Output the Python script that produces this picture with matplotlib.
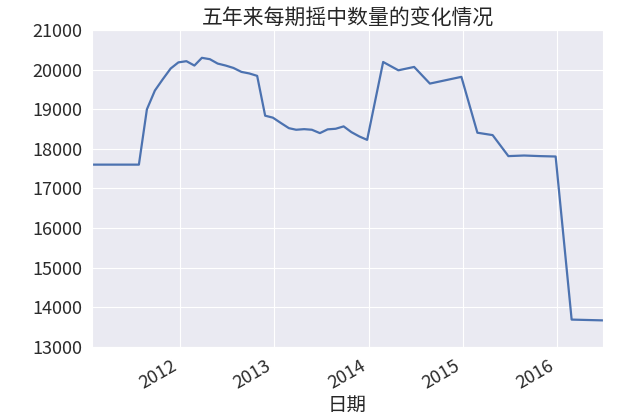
import matplotlib
matplotlib.use("Agg")
import matplotlib.pyplot as plt
import matplotlib.dates as mdates
import pandas as pd
import seaborn as sns

# monthly draws 2011-2013, bimonthly from 2014 on (draw day = 26th)
dates = (["2011-%02d-26" % m for m in range(1, 13)]
         + ["2012-%02d-26" % m for m in range(1, 13)]
         + ["2013-%02d-26" % m for m in range(1, 13)]
         + ["2014-%02d-26" % m for m in (2, 4, 6, 8, 10, 12)]
         + ["2015-%02d-26" % m for m in (2, 4, 6, 8, 10, 12)]
         + ["2016-%02d-26" % m for m in (2, 4, 6)])

winners = [17600, 17600, 17600, 17600, 17600, 17600, 17600,
           18995, 19470, 19750, 20025, 20180,
           20210, 20100, 20295, 20260, 20150, 20100,
           20040, 19940, 19900, 19840, 18835, 18785,
           18650, 18520, 18480, 18495, 18480, 18395,
           18490, 18505, 18565, 18420, 18310, 18225,
           20190, 19980, 20065, 19645, 19730, 19815,
           18405, 18345, 17815, 17830, 17815, 17805,
           13690, 13680, 13670]

title = "五年来每期摇中数量的变化情况"
xlabel = "日期"

sns.set_style("darkgrid")
plt.rcParams['font.family'] = ['Noto Sans CJK SC', 'DejaVu Sans']

x = pd.to_datetime(dates)

fig = plt.figure(figsize=(6.4, 4.15), dpi=100)
ax = fig.add_axes([0.144, 0.164, 0.798, 0.764])
ax.plot(x, winners, color='#4C72B0', linewidth=1.6)

ax.set_xlim(x[0], x[-1])
ax.set_ylim(13000, 21000)
ax.set_yticks(range(13000, 21001, 1000))
ax.xaxis.set_major_locator(mdates.YearLocator())
ax.xaxis.set_major_formatter(mdates.DateFormatter('%Y'))

for lab in ax.get_xticklabels():
    lab.set_rotation(30)
    lab.set_ha('right')
ax.tick_params(axis='both', labelsize=13, colors='#2b2b2b')

ax.set_title(title, fontsize=15, color='#262626', pad=4)
ax.set_xlabel(xlabel, fontsize=14, color='#262626', labelpad=2)

fig.savefig("out.png", dpi=100)
